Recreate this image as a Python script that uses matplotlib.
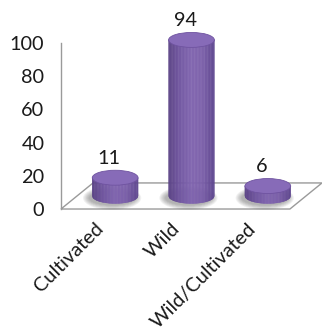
"""Cylinder column chart of specimen source counts, drawn on a tilted floor."""

import matplotlib.pyplot as plt
import matplotlib.transforms as mtransforms
import numpy as np
from matplotlib.collections import PolyCollection
from matplotlib.colors import LinearSegmentedColormap
from matplotlib.patches import Ellipse, Polygon

categories = ["Cultivated", "Wild", "Wild/Cultivated"]
counts = [11, 94, 6]
yticks = [0, 20, 40, 60, 80, 100]

# Floor depth in data units (x in category units, y in value units).
DEPTH_X = 0.42
DEPTH_Y = 15.7
BAR_W = 0.6
CAP_H = 9.0
N_STRIPS = 60
FONT_SIZE = 14.3

plt.rcParams["font.family"] = ["Lato", "DejaVu Sans"]

body_cmap = LinearSegmentedColormap.from_list(
    "body", ["#5a4285", "#7156a1", "#8064af", "#7b5faa", "#5e468f"]
)


def draw_cylinder(ax, cx, base, value):
    a = BAR_W / 2
    b = CAP_H / 2
    top = base + value

    # soft shadow on the floor
    for k in range(6):
        ax.add_patch(Ellipse((cx - 0.04, base - 1.2), BAR_W * (1.02 + 0.05 * k),
                             CAP_H * (1.0 + 0.12 * k), facecolor="#303030",
                             edgecolor="none", alpha=0.07, zorder=2, clip_on=False))

    # body as vertical strips so the shading runs across the width
    edges = np.linspace(-a, a, N_STRIPS + 1)
    polys = []
    for x0, x1 in zip(edges[:-1], edges[1:]):
        y0 = base - b * np.sqrt(max(0.0, 1 - (x0 / a) ** 2))
        y1 = base - b * np.sqrt(max(0.0, 1 - (x1 / a) ** 2))
        polys.append([(cx + x0, y0), (cx + x1, y1), (cx + x1, top), (cx + x0, top)])
    shades = body_cmap(np.linspace(0, 1, N_STRIPS))
    body = PolyCollection(polys, facecolors=shades, edgecolors=shades,
                          linewidths=0.3, zorder=3, clip_on=False)
    ax.add_collection(body)

    ax.add_patch(Ellipse((cx, top), BAR_W, CAP_H, facecolor="#876bb8",
                         edgecolor="#6f53a0", linewidth=0.6, zorder=4, clip_on=False))


fig = plt.figure(figsize=(3.22, 3.29), dpi=100)
ax = fig.add_axes([0.1894, 0.3647, 0.711, 0.5046])

x = np.arange(len(categories))
x_lo, x_hi = -0.5, len(categories) - 0.5

floor = Polygon([(x_lo, 0), (x_hi, 0), (x_hi + DEPTH_X, DEPTH_Y), (x_lo + DEPTH_X, DEPTH_Y)],
                closed=True, facecolor="white", edgecolor="#9a9a9a", linewidth=1.0,
                zorder=1, clip_on=False)
ax.add_patch(floor)

base = DEPTH_Y / 2
for xi, v in zip(x, counts):
    cx = xi + DEPTH_X / 2
    draw_cylinder(ax, cx, base, v)
    ax.text(xi + 0.13, base + v + CAP_H / 2 + 7, str(v), ha="center", va="center",
            fontsize=FONT_SIZE, color="#1a1a1a", clip_on=False, zorder=5)

ax.set_xlim(x_lo, x_hi)
ax.set_ylim(0, 100)
ax.set_yticks(yticks)
ax.set_xticks(x)
ax.set_xticklabels(categories, rotation=45, ha="right", rotation_mode="anchor")
ax.tick_params(axis="y", length=0, pad=12, labelsize=FONT_SIZE, labelcolor="#1a1a1a")
ax.tick_params(axis="x", length=0, pad=8, labelsize=FONT_SIZE, labelcolor="#1a1a1a")

# nudge the slanted category labels a little to the left
shift = mtransforms.ScaledTranslation(-3.5 / 72, 0, fig.dpi_scale_trans)
for lbl in ax.get_xticklabels():
    lbl.set_transform(lbl.get_transform() + shift)

for side in ("top", "right", "bottom"):
    ax.spines[side].set_visible(False)
ax.spines["left"].set_color("#9a9a9a")
ax.spines["left"].set_linewidth(1.0)
ax.patch.set_visible(False)

fig.savefig("out.png", dpi=100)
